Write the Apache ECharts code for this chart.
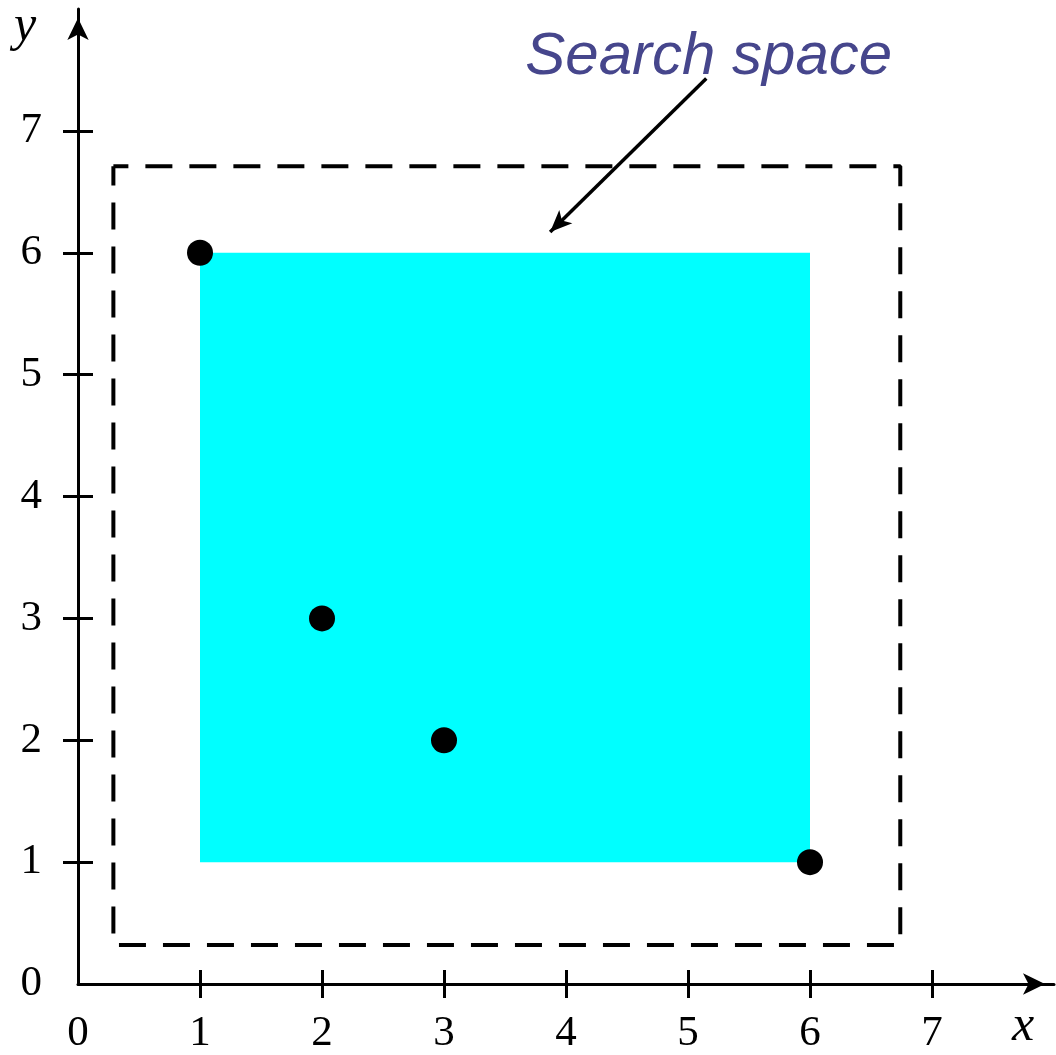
<!DOCTYPE html>
<html>
<head>
<meta charset="utf-8">
<script src="https://cdn.jsdelivr.net/npm/echarts@6/dist/echarts.min.js"></script>
<style>
  html, body { margin: 0; padding: 0; background: #fff; }
  #chart { width: 1056px; height: 1055px; }
</style>
</head>
<body>
<div id="chart"></div>
<script>
// Axis ticks and labels
const tickLabels = [0, 1, 2, 3, 4, 5, 6, 7];
const tickMarks = [1, 2, 3, 4, 5, 6, 7];

// Sample points
const points = [[1, 6], [2, 3], [3, 2], [6, 1]];

// Bounding box of the points (filled region)
const boxCorners = [[1, 1], [6, 6]];

// Search space boundary (dashed rectangle)
const searchLeft = 0.29, searchRight = 6.74, searchBottom = 0.32, searchTop = 6.71;
const searchOutline = [
  [searchLeft, searchTop], [searchRight, searchTop],
  [searchRight, searchBottom], [searchLeft, searchBottom],
  [searchLeft, searchTop]
];

// Annotation
const annotationText = 'Search space';
const annotationAt = [5.17, 7.6];
const arrowFrom = [5.15, 7.43];
const arrowTo = [3.87, 6.17];

const chart = echarts.init(document.getElementById('chart'));

const serif = 'Liberation Serif';
const tickFont = { fontFamily: serif, fontSize: 43, color: '#000' };

function baseAxis(extra) {
  return Object.assign({
    type: 'value', min: 0, max: 8, interval: 1,
    splitLine: { show: false }
  }, extra);
}

const option = {
  animation: false,
  grid: { left: 78, right: 2, top: 9, bottom: 70, containLabel: false },
  xAxis: [
    baseAxis({
      position: 'bottom',
      axisLine: {
        show: true, onZero: false,
        lineStyle: { color: '#000', width: 3 },
        symbol: ['none', 'arrow'], symbolSize: [16, 22], symbolOffset: [0, -9]
      },
      axisTick: { show: true, inside: false, length: 14, customValues: tickMarks,
        lineStyle: { color: '#000', width: 3 } },
      axisLabel: { show: true, margin: 28, customValues: tickLabels, ...tickFont }
    }),
    baseAxis({
      position: 'bottom',
      axisLine: { show: false, onZero: false },
      axisTick: { show: true, inside: true, length: 14, customValues: tickMarks,
        lineStyle: { color: '#000', width: 3 } },
      axisLabel: { show: false }
    })
  ],
  yAxis: [
    baseAxis({
      position: 'left',
      axisLine: {
        show: true, onZero: false,
        lineStyle: { color: '#000', width: 3 },
        symbol: ['none', 'arrow'], symbolSize: [16, 22], symbolOffset: [0, -9]
      },
      axisTick: { show: true, inside: false, length: 15, customValues: tickMarks,
        lineStyle: { color: '#000', width: 3 } },
      axisLabel: { show: true, margin: 36, customValues: tickLabels, ...tickFont }
    }),
    baseAxis({
      position: 'left',
      axisLine: { show: false, onZero: false },
      axisTick: { show: true, inside: true, length: 15, customValues: tickMarks,
        lineStyle: { color: '#000', width: 3 } },
      axisLabel: { show: false }
    })
  ],
  series: [
    {
      // filled bounding box
      type: 'line', data: [], z: 1, silent: true,
      markArea: {
        silent: true,
        itemStyle: { color: '#00ffff', opacity: 1 },
        data: [[{ coord: boxCorners[0] }, { coord: boxCorners[1] }]]
      }
    },
    {
      // search space outline
      type: 'line', data: searchOutline, z: 3, silent: true,
      showSymbol: false, symbol: 'none',
      lineStyle: { color: '#000', width: 4, type: [27, 17], dashOffset: 12, opacity: 1 }
    },
    {
      type: 'scatter', data: points, z: 5, silent: true,
      symbolSize: 26, itemStyle: { color: '#000', opacity: 1 }
    },
    {
      // annotation text and arrow
      type: 'line', data: [], z: 6, silent: true,
      markLine: {
        silent: true, animation: false,
        symbol: ['none', 'arrow'], symbolSize: [14, 22],
        label: { show: false },
        lineStyle: { color: '#000', width: 3.5, type: 'solid', opacity: 1 },
        data: [[{ coord: arrowFrom }, { coord: arrowTo }]]
      },
      markPoint: {
        silent: true, animation: false,
        symbol: 'circle', symbolSize: 1,
        itemStyle: { color: 'rgba(0,0,0,0)' },
        label: {
          show: true, position: 'inside', formatter: annotationText,
          fontFamily: 'Liberation Sans', fontStyle: 'italic', fontSize: 60,
          color: '#46468c'
        },
        data: [{ coord: annotationAt }]
      }
    }
  ],
  graphic: [
    { type: 'text', left: 14, top: 2,
      style: { text: 'y', font: 'italic 50px "Liberation Serif"', fill: '#000' } },
    { type: 'text', left: 1012, top: 1002,
      style: { text: 'x', font: 'italic 50px "Liberation Serif"', fill: '#000' } }
  ]
};

chart.setOption(option);
</script>
</body>
</html>
